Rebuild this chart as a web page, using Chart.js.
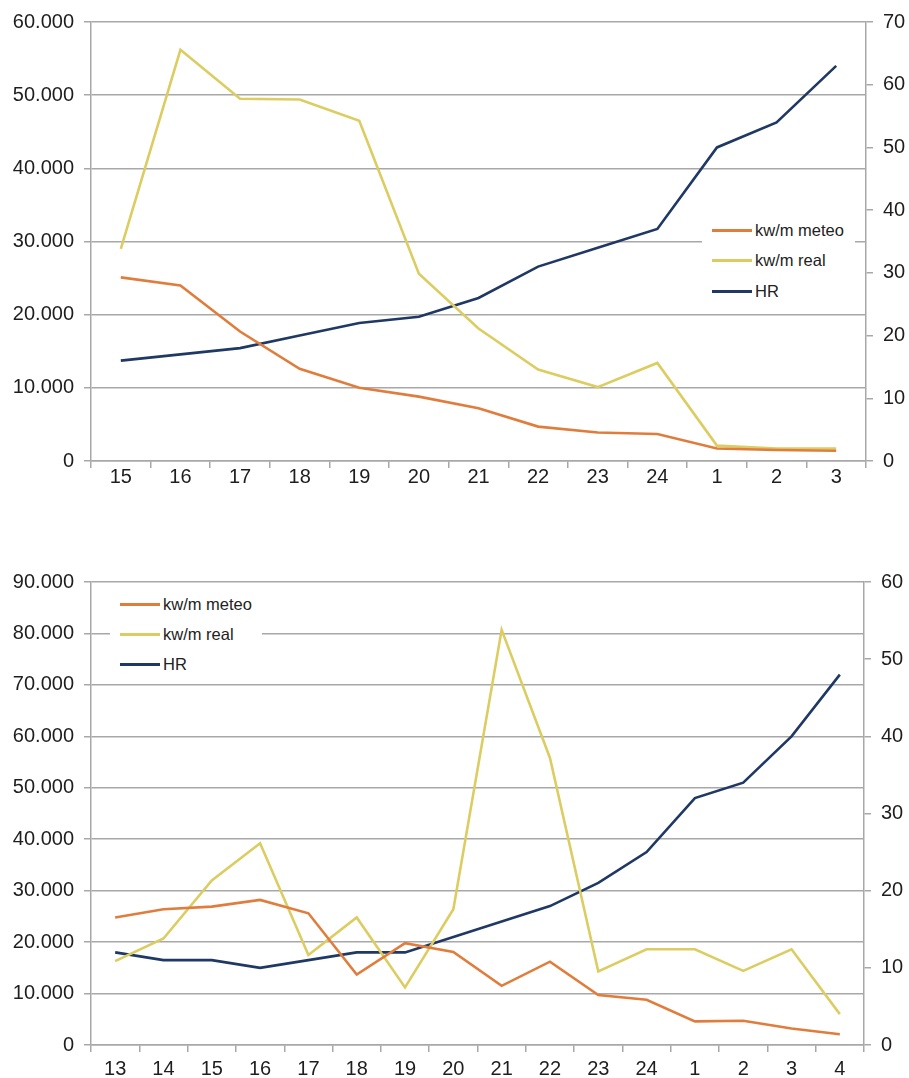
<!DOCTYPE html>
<html>
<head>
<meta charset="utf-8">
<script src="https://cdn.jsdelivr.net/npm/chart.js@4/dist/chart.umd.min.js"></script>
<style>
  html, body { margin: 0; padding: 0; background: #fff; }
  body { width: 909px; height: 1078px; position: relative; overflow: hidden; font-family: "Liberation Sans", Arial, sans-serif; }
  .wrap { position: absolute; left: 0; width: 909px; }
  .legend { position: absolute; background: #fff; color: #222; font-size: 16.5px; }
  .legend .row { position: absolute; left: 0; height: 20px; display: flex; align-items: center; white-space: nowrap; }
  .legend .swatch { display: inline-block; width: 40px; height: 3px; margin-right: 3px; }
</style>
</head>
<body>
<div class="wrap" id="wrapTop" style="top:0; height:520px;"><canvas id="chartTop"></canvas></div>
<div class="wrap" id="wrapBottom" style="top:560px; height:518px;"><canvas id="chartBottom"></canvas></div>
<div class="legend" id="legendTop" style="left:702px; top:214px; width:153px; height:92px;"></div>
<div class="legend" id="legendBottom" style="left:110px; top:590px; width:152px; height:88px;"></div>

<script>
// Hours of the day
const hoursTop = ['15', '16', '17', '18', '19', '20', '21', '22', '23', '24', '1', '2', '3'];
const hoursBottom = ['13', '14', '15', '16', '17', '18', '19', '20', '21', '22', '23', '24', '1', '2', '3', '4'];

// First day
const meteoTop = [25100, 24000, 17700, 12600, 10000, 8800, 7200, 4700, 3900, 3700, 1700, 1500, 1400];
const realTop = [29000, 56200, 49500, 49400, 46500, 25600, 18100, 12500, 10100, 13400, 2100, 1700, 1700];
const hrTop = [16, 17, 18, 20, 22, 23, 26, 31, 34, 37, 50, 54, 63];

// Second day
const meteoBottom = [24800, 26400, 26900, 28200, 25600, 13700, 19800, 18100, 11500, 16200, 9700, 8800, 4600, 4700, 3200, 2100];
const realBottom = [16300, 20700, 32000, 39200, 17500, 24800, 11200, 26400, 80700, 55800, 14300, 18600, 18600, 14400, 18600, 6000];
const hrBottom = [12, 11, 11, 10, 11, 12, 12, 14, 16, 18, 21, 25, 32, 34, 40, 48];

const seriesNames = ['kw/m meteo', 'kw/m real', 'HR'];
const seriesColors = ['#e07d3c', '#dccd62', '#1f3864'];

const TEXT = '#1e1e1e';
const GRID = '#a8a8a8';
const FONT = { family: '"Liberation Sans", Arial, sans-serif', size: 20 };

function dotThousands(v) {
  return String(Math.round(v)).replace(/\B(?=(\d{3})+(?!\d))/g, '.');
}

function makeChart(canvasId, labels, meteo, real, hr, leftMax, rightMax, dims) {
  const datasets = [meteo, real, hr].map((data, i) => ({
    label: seriesNames[i],
    data: data,
    borderColor: seriesColors[i],
    backgroundColor: seriesColors[i],
    borderWidth: 2.6,
    pointRadius: 0,
    tension: 0,
    fill: false,
    yAxisID: i === 2 ? 'yR' : 'yL'
  }));

  return new Chart(document.getElementById(canvasId), {
    type: 'line',
    data: { labels: labels, datasets: datasets },
    options: {
      responsive: true,
      maintainAspectRatio: false,
      animation: false,
      events: [],
      layout: { padding: { top: dims.top, bottom: 0, left: 0, right: 0 } },
      plugins: { legend: { display: false }, tooltip: { enabled: false } },
      scales: {
        x: {
          offset: true,
          grid: { offset: true, drawOnChartArea: false, drawTicks: true, tickLength: 7, color: GRID, lineWidth: 1.5 },
          border: { display: true, color: GRID, width: 1.5 },
          ticks: { color: TEXT, font: FONT, padding: dims.xPad, maxRotation: 0, autoSkip: false },
          afterFit: s => { s.height = dims.xHeight; }
        },
        yL: {
          position: 'left',
          min: 0, max: leftMax,
          grid: { color: GRID, lineWidth: 1.5, tickLength: 7 },
          border: { display: true, color: GRID, width: 1.5 },
          ticks: { stepSize: 10000, color: TEXT, font: FONT, padding: 10, callback: v => dotThousands(v) },
          afterFit: s => { s.width = dims.left; }
        },
        yR: {
          position: 'right',
          min: 0, max: rightMax,
          grid: { drawOnChartArea: false, color: GRID, lineWidth: 1.5, tickLength: 7 },
          border: { display: true, color: GRID, width: 1.5 },
          ticks: { stepSize: 10, color: TEXT, font: FONT, padding: 10 },
          afterFit: s => { s.width = dims.right; }
        }
      }
    }
  });
}

function buildLegend(el, rowTops) {
  seriesNames.forEach((name, i) => {
    const row = document.createElement('div');
    row.className = 'row';
    row.style.top = rowTops[i] + 'px';
    row.style.left = '10px';
    const sw = document.createElement('span');
    sw.className = 'swatch';
    sw.style.background = seriesColors[i];
    const tx = document.createElement('span');
    tx.textContent = name;
    row.appendChild(sw);
    row.appendChild(tx);
    el.appendChild(row);
  });
}

makeChart('chartTop', hoursTop, meteoTop, realTop, hrTop, 60000, 70,
  { top: 22, left: 91, right: 43, xHeight: 59, xPad: -3 });
makeChart('chartBottom', hoursBottom, meteoBottom, realBottom, hrBottom, 90000, 60,
  { top: 22, left: 91, right: 45, xHeight: 33, xPad: 5 });

buildLegend(document.getElementById('legendTop'), [6, 36, 67]);
buildLegend(document.getElementById('legendBottom'), [4, 34, 64]);
</script>
</body>
</html>
